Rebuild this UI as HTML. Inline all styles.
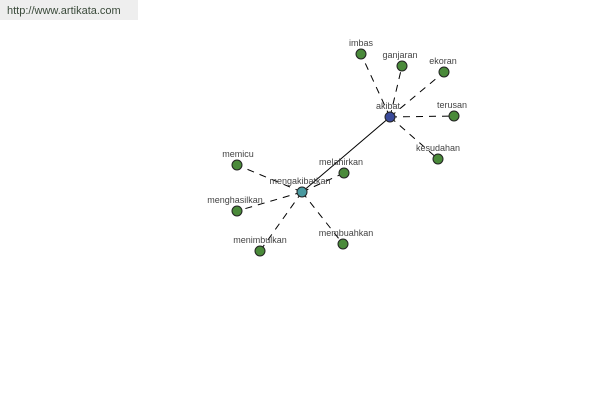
<!DOCTYPE html>
<html><head><style>body{margin:0;background:#fff}</style></head><body>
<div style="position:absolute;left:0;top:0;width:138px;height:20px;background:#eeeeee;font:11px 'Liberation Sans',sans-serif;color:#3a4a3a;line-height:22px;padding-left:7px;box-sizing:border-box">http://www.artikata.com</div>
<svg width="600" height="400" style="position:absolute;left:0;top:0" font-family="Liberation Sans, sans-serif" font-size="9" fill="#444">
<g stroke="#000" stroke-width="1" stroke-dasharray="7,6">
<line x1="390" y1="117" x2="361" y2="54"/><line x1="390" y1="117" x2="402" y2="66"/>
<line x1="390" y1="117" x2="444" y2="72"/><line x1="390" y1="117" x2="454" y2="116"/>
<line x1="390" y1="117" x2="438" y2="159"/>
<line x1="302" y1="192" x2="344" y2="173"/><line x1="302" y1="192" x2="237" y2="165"/>
<line x1="302" y1="192" x2="237" y2="211"/><line x1="302" y1="192" x2="260" y2="251"/>
<line x1="302" y1="192" x2="343" y2="244"/>
</g>
<line x1="390" y1="117" x2="302" y2="192" stroke="#000"/>
<g fill="#4a8a3a" stroke="#222" stroke-width="1">
<circle cx="361" cy="54" r="5"/><circle cx="402" cy="66" r="5"/><circle cx="444" cy="72" r="5"/>
<circle cx="454" cy="116" r="5"/><circle cx="438" cy="159" r="5"/><circle cx="344" cy="173" r="5"/>
<circle cx="237" cy="165" r="5"/><circle cx="237" cy="211" r="5"/><circle cx="260" cy="251" r="5"/>
<circle cx="343" cy="244" r="5"/>
<circle cx="390" cy="117" r="5" fill="#3a4a9a"/><circle cx="302" cy="192" r="5" fill="#4a9aa0"/>
</g>
<g text-anchor="middle">
<text x="361" y="46">imbas</text><text x="400" y="58">ganjaran</text><text x="443" y="64">ekoran</text>
<text x="452" y="108">terusan</text><text x="438" y="151">kesudahan</text><text x="341" y="165">melahirkan</text>
<text x="238" y="157">memicu</text><text x="235" y="203">menghasilkan</text><text x="260" y="243">menimbulkan</text>
<text x="346" y="236">membuahkan</text><text x="388" y="109">akibat</text><text x="300" y="184">mengakibatkan</text>
</g>
</svg>
</body></html>
